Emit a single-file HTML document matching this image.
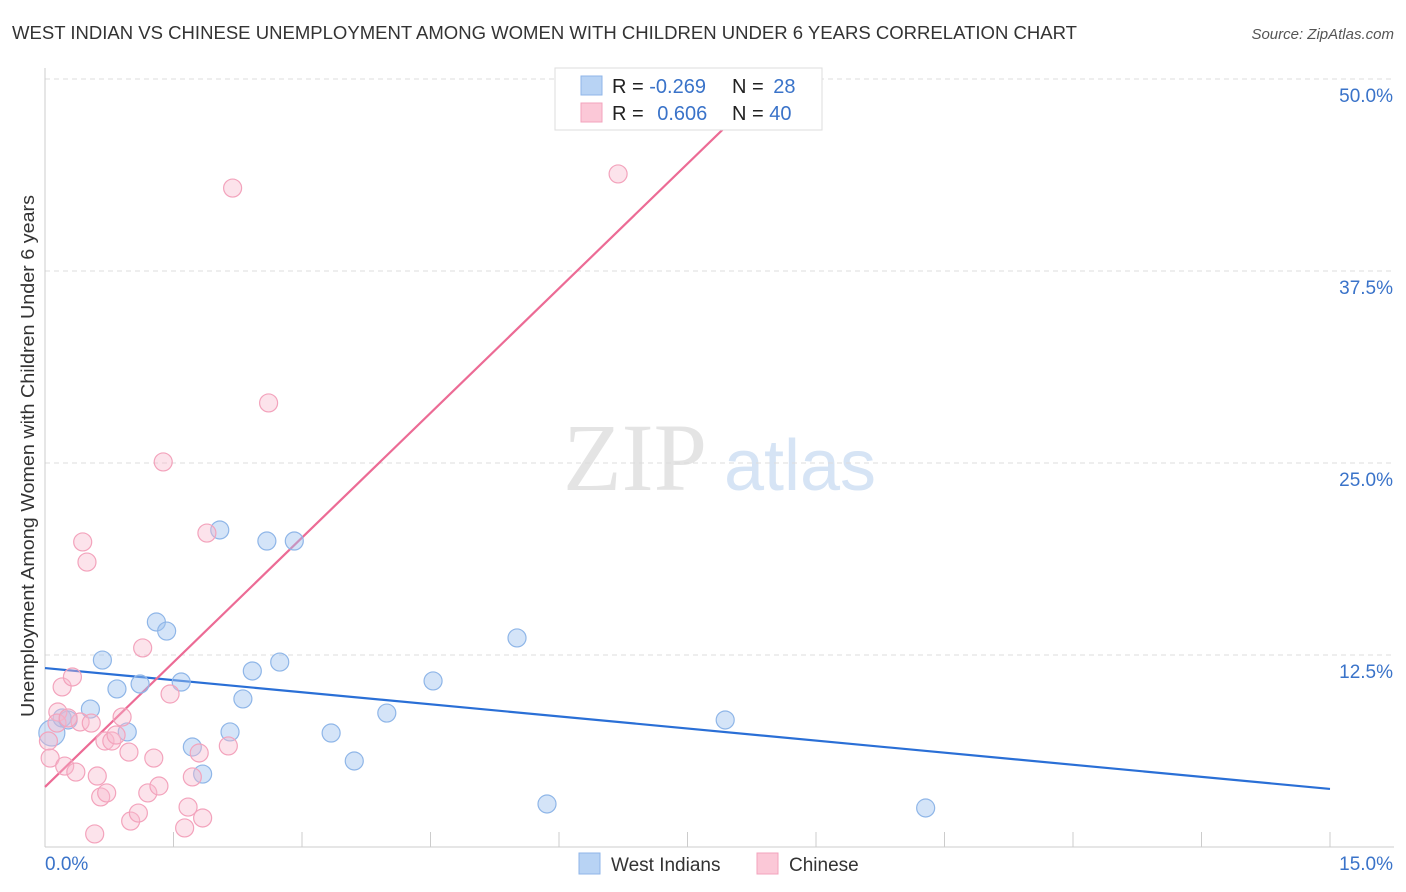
<!DOCTYPE html>
<html><head><meta charset="utf-8">
<style>
body{margin:0;background:#fff;font-family:"Liberation Sans",sans-serif;}
svg{display:block}
</style></head>
<body>
<svg id="chart" width="1406" height="892">
<text x="12" y="39" font-size="18" fill="#333" textLength="1065" lengthAdjust="spacingAndGlyphs">WEST INDIAN VS CHINESE UNEMPLOYMENT AMONG WOMEN WITH CHILDREN UNDER 6 YEARS CORRELATION CHART</text>
<text x="1394" y="39" font-size="15" fill="#555" font-style="italic" text-anchor="end">Source: ZipAtlas.com</text>
<text x="0" y="0" transform="translate(34,456) rotate(-90)" font-size="18" fill="#333" text-anchor="middle" textLength="522" lengthAdjust="spacingAndGlyphs">Unemployment Among Women with Children Under 6 years</text>
<g>
<text x="635" y="490" font-size="96" fill="#e4e4e4" font-family="Liberation Serif,serif" text-anchor="middle">ZIP</text>
<text x="800" y="490" font-size="72" fill="#d6e4f5" text-anchor="middle">atlas</text>
</g>
<g id="grid"></g><g id="axes"></g><g id="lines"></g><g id="pts"></g>
<g>
<rect x="555" y="68" width="267" height="62" fill="#fff" stroke="#ddd"/>
<rect x="581" y="76" width="21" height="19" fill="#b8d3f4" stroke="#8fb6e8"/>
<rect x="581" y="103" width="21" height="19" fill="#fbc8d7" stroke="#f3a3bc"/>
<text x="612" y="93" font-size="20" fill="#222">R = <tspan fill="#3a73c9">-0.269</tspan></text>
<text x="732" y="93" font-size="20" fill="#222">N = <tspan fill="#3a73c9" dx="4">28</tspan></text>
<text x="612" y="120" font-size="20" fill="#222">R = <tspan fill="#3a73c9" dx="8">0.606</tspan></text>
<text x="732" y="120" font-size="20" fill="#222">N = <tspan fill="#3a73c9">40</tspan></text>
</g>
<g>
<rect x="579" y="853" width="21" height="21" fill="#b8d3f4" stroke="#8fb6e8"/>
<text x="611" y="871" font-size="19" fill="#333">West Indians</text>
<rect x="757" y="853" width="21" height="21" fill="#fbc8d7" stroke="#f3a3bc"/>
<text x="789" y="871" font-size="19" fill="#333">Chinese</text>
</g>
</svg>
<script>
const yTicks=[12.5,25,37.5,50];
const yTickLabels=["12.5%","25.0%","37.5%","50.0%"];
const xMin=0,xMax=15;
const blueX=[0.08,0.20,0.27,0.53,0.67,0.84,0.96,1.11,1.30,1.42,1.59,1.72,1.84,2.04,2.16,2.31,2.42,2.59,2.74,2.91,3.34,3.61,3.99,4.53,5.51,5.86,7.94,10.28];
const blueY=[7.42,8.40,8.27,8.98,12.17,10.29,7.49,10.61,14.65,14.06,10.74,6.51,4.75,20.64,7.49,9.64,11.46,19.92,12.04,19.92,7.42,5.60,8.72,10.81,13.61,2.80,8.27,2.54];
const pinkX=[0.04,0.06,0.15,0.20,0.23,0.32,0.36,0.41,0.44,0.49,0.54,0.58,0.61,0.65,0.70,0.72,0.78,0.83,0.90,0.98,1.00,1.09,1.14,1.20,1.27,1.33,1.38,1.46,1.63,1.67,1.72,1.80,1.84,1.89,2.14,2.19,2.61,6.69,0.14,0.27];
const pinkY=[6.90,5.79,8.79,10.42,5.27,11.07,4.88,8.14,19.86,18.55,8.07,0.85,4.62,3.26,6.90,3.52,6.90,7.29,8.46,6.18,1.69,2.21,12.96,3.52,5.79,3.97,25.07,9.96,1.24,2.60,4.56,6.12,1.89,20.44,6.58,42.90,28.91,43.82,8.07,8.40];
const blueTrend=[[0,11.65],[15,3.78]];
const pinkTrend=[[0,3.91],[8.05,47.46]];
const NS="http://www.w3.org/2000/svg";
const xs=v=>45+(v-xMin)/(xMax-xMin)*1285;
const ys=v=>847-v*15.36;
function mk(tag,attrs,parent){const e=document.createElementNS(NS,tag);for(const k in attrs)e.setAttribute(k,attrs[k]);document.getElementById(parent).appendChild(e);return e;}
yTicks.forEach((t,i)=>{
 const l=mk('line',{x1:45,x2:1394,y1:ys(t),y2:ys(t),stroke:'#ddd','stroke-dasharray':'5,4'},'grid');
 
 
 const tx=mk('text',{x:1393,y:ys(t)+23,'font-size':19,fill:'#3a73c9','text-anchor':'end'},'axes');
 tx.textContent=yTickLabels[i];
 
 
});
let a=mk('line',{x1:45,x2:45,y1:68,y2:847,stroke:'#ccc'},'axes');


a=mk('line',{x1:45,x2:1394,y1:847,y2:847,stroke:'#ccc'},'axes');


for(let i=0;i<=10;i++){const t=mk('line',{x1:xs(i*1.5),x2:xs(i*1.5),y1:832,y2:847,stroke:'#ccc'},'axes');
 
 }
let xl=mk('text',{x:45,y:870,'font-size':19,fill:'#3a73c9'},'axes');xl.textContent='0.0%';


xl=mk('text',{x:1393,y:870,'font-size':19,fill:'#3a73c9','text-anchor':'end'},'axes');xl.textContent='15.0%';


blueX.forEach((x,i)=>{const c=mk('circle',{cx:xs(x),cy:ys(blueY[i]),r:i==0?13:9,fill:'rgba(160,195,240,0.45)',stroke:'#8fb6e8','stroke-width':1.2},'pts');
 
 });
pinkX.forEach((x,i)=>{const c=mk('circle',{cx:xs(x),cy:ys(pinkY[i]),r:9,fill:'rgba(248,185,205,0.4)',stroke:'#f3a3bc','stroke-width':1.2},'pts');
 
 });
let tl=mk('line',{x1:xs(blueTrend[0][0]),y1:ys(blueTrend[0][1]),x2:xs(blueTrend[1][0]),y2:ys(blueTrend[1][1]),stroke:'#2a6fd6','stroke-width':2.2},'lines');


tl=mk('line',{x1:xs(pinkTrend[0][0]),y1:ys(pinkTrend[0][1]),x2:xs(pinkTrend[1][0]),y2:ys(pinkTrend[1][1]),stroke:'#ec6b95','stroke-width':2.2},'lines');


</script>
</body></html>
